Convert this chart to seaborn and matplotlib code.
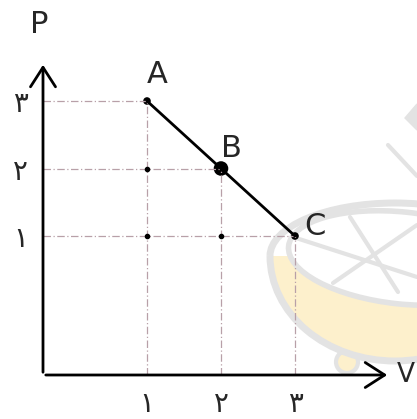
import matplotlib
matplotlib.use("Agg")
import matplotlib.pyplot as plt
import seaborn as sns
import pandas as pd
from matplotlib.patches import Ellipse, Circle, Arc, Polygon
import numpy as np

# states of the gas on the P-V diagram
states = ["A", "B", "C"]
volume = [1, 2, 3]
pressure = [3, 2, 1]
tick_values = [1, 2, 3]
tick_labels = ["۱", "۲", "۳"]

df = pd.DataFrame({"V": volume, "P": pressure, "state": states})

sns.set_style("white")
plt.rcParams["font.family"] = ["DejaVu Sans"]

W, H = 417, 419
fig = plt.figure(figsize=(W / 100, H / 100), dpi=100)

# faint watermark behind the drawing (pixel coords, y down)
bg = fig.add_axes([0, 0, 1, 1])
bg.set_xlim(0, W)
bg.set_ylim(H, 0)
bg.axis("off")
wm_gray, wm_yel = "#e3e3e3", "#fdf0cc"
cx, cy, rx = 395, 256, 125
t = np.linspace(0, np.pi, 60)
bowl = np.column_stack([cx + rx * np.cos(t), cy + 105 * np.sin(t)])
bg.add_patch(Polygon(bowl, closed=True, facecolor=wm_yel, edgecolor="none"))
bg.add_patch(Circle((347, 362), 11, facecolor=wm_yel, edgecolor=wm_gray, lw=3))
bg.add_patch(Polygon(bowl, closed=True, facecolor=wm_yel, edgecolor="none"))
bg.add_patch(Arc((cx, cy), 2 * rx, 210, theta1=0, theta2=180, edgecolor=wm_gray, lw=5))
bg.add_patch(Arc((cx, cy), 2 * rx, 106, theta1=180, theta2=360, edgecolor=wm_gray, lw=5))
bg.add_patch(Ellipse((402, 258), 228, 92, angle=6, facecolor="white", edgecolor=wm_gray, lw=4))
bg.plot([293, 417], [237, 277], color=wm_gray, lw=3)
bg.plot([333, 417], [283, 225], color=wm_gray, lw=3)
bg.plot([350, 398], [217, 292], color=wm_gray, lw=3)
bg.plot([388, 417], [145, 176], color=wm_gray, lw=3)
bg.fill([405, 417, 417], [118, 104, 130], color=wm_gray)

# axes placed so the hand-drawn axes sit where they are in the picture
x0, x1, y0, y1 = 43, 390, 62, 375
ax = fig.add_axes([x0 / W, 1 - y1 / H, (x1 - x0) / W, (y1 - y0) / H])
ax.patch.set_alpha(0)
px_v, px_p = 74.0, 67.5
ax.set_xlim(1 - (147 - x0) / px_v, 1 + (x1 - 147) / px_v)
ax.set_ylim(1 - (y1 - 236) / px_p, 1 + (236 - y0) / px_p)
for s in ax.spines.values():
    s.set_visible(False)

# axis arrows
head = dict(arrowstyle="->,head_length=0.7,head_width=0.45", color="black",
            lw=2, mutation_scale=20)
ax.annotate("", xy=(0, 1), xytext=(0, 0), xycoords="axes fraction", arrowprops=head)
ax.annotate("", xy=(1, 0), xytext=(0, 0), xycoords="axes fraction", arrowprops=head)
ax.text(-0.01, 1.12, "P", transform=ax.transAxes, ha="center", va="center", fontsize=22)
ax.text(1.045, 0.0, "V", transform=ax.transAxes, ha="center", va="center", fontsize=19)

# dashed guide lines
guide = dict(color="#b8a0a8", lw=0.9, ls=(0, (6, 2, 1, 2)))
xmin, ymin = ax.get_xlim()[0], ax.get_ylim()[0]
for v, p in zip(volume, pressure):
    ax.plot([v, v], [ymin, p], **guide)
    ax.plot([xmin, v], [p, p], **guide)
ax.plot([1, 1, 2], [2, 1, 1], "o", color="black", ms=3)

# the process line A -> C
sns.lineplot(data=df, x="V", y="P", color="black", lw=2, ax=ax, sort=False)
sns.scatterplot(data=df, x="V", y="P", ax=ax, color="black", s=[30, 110, 30],
                edgecolor="none", legend=False)
offsets = {"A": (10, 27), "B": (10, 20), "C": (20, 10)}
for v, p, s in zip(volume, pressure, states):
    ax.annotate(s, (v, p), xytext=offsets[s], textcoords="offset pixels",
                ha="center", va="center", fontsize=22)

ax.set_xticks(tick_values)
ax.set_xticklabels(tick_labels, fontsize=20)
ax.set_yticks(tick_values)
ax.set_yticklabels(tick_labels, fontsize=20)
ax.tick_params(length=0, pad=11)
ax.set_xlabel("")
ax.set_ylabel("")

fig.savefig("out.png", dpi=100)
